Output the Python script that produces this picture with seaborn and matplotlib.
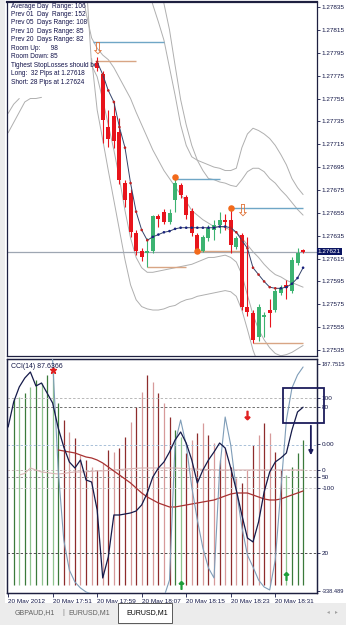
import numpy as np
import pandas as pd
import matplotlib
matplotlib.use("Agg")
import matplotlib.pyplot as plt
import matplotlib.transforms as mtrans
from matplotlib.patches import Rectangle
import seaborn as sns

sns.set_theme(style="white")
plt.rcParams['font.family'] = ['Liberation Sans', 'DejaVu Sans']

# ---------------- data ----------------
OPEN = [1.27786, 1.27776, 1.27730, 1.27740, 1.27726, 1.27681, 1.27672, 1.27637, 1.27622, 1.27620,
        1.27622, 1.27652, 1.27656, 1.27647, 1.27666, 1.27679, 1.27669, 1.27657, 1.27636, 1.27622,
        1.27633, 1.27640, 1.27644, 1.27649, 1.27649, 1.27625, 1.27636, 1.27573, 1.27567, 1.27546,
        1.27564, 1.27570, 1.27570, 1.27585, 1.27592, 1.27587, 1.27611, 1.27622]
HIGH = [1.27791, 1.27779, 1.27745, 1.27752, 1.27738, 1.27684, 1.27676, 1.27640, 1.27624, 1.27633,
        1.27653, 1.27654, 1.27658, 1.27658, 1.27685, 1.27681, 1.27671, 1.27659, 1.27637, 1.27636,
        1.27644, 1.27649, 1.27656, 1.27654, 1.27659, 1.27635, 1.27637, 1.27634, 1.27570, 1.27575,
        1.27568, 1.27580, 1.27589, 1.27592, 1.27596, 1.27616, 1.27624, 1.27623]
LOW = [1.27779, 1.27716, 1.27713, 1.27712, 1.27680, 1.27660, 1.27634, 1.27618, 1.27613, 1.27608,
       1.27620, 1.27643, 1.27645, 1.27645, 1.27656, 1.27668, 1.27650, 1.27635, 1.27621, 1.27621,
       1.27630, 1.27631, 1.27637, 1.27640, 1.27620, 1.27623, 1.27570, 1.27565, 1.27541, 1.27543,
       1.27546, 1.27555, 1.27568, 1.27583, 1.27580, 1.27585, 1.27609, 1.27620]
CLOSE = [1.27782, 1.27736, 1.27720, 1.27718, 1.27684, 1.27666, 1.27638, 1.27622, 1.27616, 1.27622,
         1.27652, 1.27650, 1.27647, 1.27655, 1.27681, 1.27671, 1.27653, 1.27637, 1.27622, 1.27634,
         1.27642, 1.27644, 1.27649, 1.27647, 1.27627, 1.27633, 1.27573, 1.27568, 1.27544, 1.27573,
         1.27566, 1.27567, 1.27587, 1.27589, 1.27589, 1.27614, 1.27620, 1.27621]
MA = [1.27787, 1.27776, 1.27762, 1.27752, 1.27730, 1.27712, 1.27681, 1.27656, 1.27640, 1.27631,
      1.27634, 1.27636, 1.27638, 1.27639, 1.27641, 1.27642, 1.27642, 1.27642, 1.27642, 1.27642,
      1.27642, 1.27642, 1.27643, 1.27643, 1.27642, 1.27638, 1.27631, 1.27624, 1.27607, 1.27601,
      1.27595, 1.27590, 1.27589, 1.27589, 1.27590, 1.27593, 1.27598, 1.27607]

# envelope / band lines: (first bar index, values)
BAND_U1 = (9, [1.27855, 1.27837, 1.27822, 1.27806, 1.27782, 1.27758, 1.27732, 1.27714, 1.27704, 1.27701,
               1.27699, 1.27697, 1.27695, 1.27694, 1.27692, 1.27692, 1.27694, 1.27712, 1.27724, 1.27729,
               1.27727, 1.27724, 1.27720, 1.27714, 1.27706, 1.27697, 1.27685, 1.27677, 1.27671])
BAND_U2 = (11, [1.27860, 1.27838, 1.27815, 1.27784, 1.27754, 1.27732, 1.27714, 1.27701, 1.27692, 1.27685,
                1.27684, 1.27682, 1.27681, 1.27679, 1.27678, 1.27684, 1.27691, 1.27694, 1.27694, 1.27691,
                1.27685, 1.27681, 1.27675, 1.27670, 1.27664, 1.27658, 1.27653])
BAND_M = (-3, [1.27860, 1.27830, 1.27808, 1.27799, 1.27793, 1.27789, 1.27782, 1.27773, 1.27764, 1.27755,
               1.27743, 1.27732, 1.27721, 1.27710, 1.27701, 1.27692, 1.27685, 1.27678, 1.27671, 1.27665,
               1.27657, 1.27653, 1.27649, 1.27646, 1.27643, 1.27643, 1.27642, 1.27640, 1.27638, 1.27633,
               1.27627, 1.27621, 1.27616, 1.27610, 1.27605, 1.27601, 1.27599, 1.27596, 1.27594, 1.27592,
               1.27590])
BAND_L1_OLD = (-16, [1.27742, 1.27750, 1.27755])
BAND_L1 = (-2, [1.27860, 1.27784, 1.27774, 1.27754, 1.27732, 1.27710, 1.27685, 1.27657, 1.27633, 1.27616,
                1.27607, 1.27603, 1.27603, 1.27604, 1.27605, 1.27606, 1.27607, 1.27608, 1.27609, 1.27610,
                1.27612, 1.27614, 1.27616, 1.27616, 1.27617, 1.27618, 1.27616, 1.27612, 1.27601, 1.27583,
                1.27566, 1.27553, 1.27544, 1.27537, 1.27532, 1.27530, 1.27531, 1.27533, 1.27536, 1.27539])
BAND_L2_OLD = (-16, [1.27725, 1.27734, 1.27743, 1.27752, 1.27755, 1.27755, 1.27756])
BAND_L2 = (-1, [1.27790, 1.27745, 1.27719, 1.27692, 1.27666, 1.27640, 1.27614, 1.27592, 1.27579, 1.27573,
                1.27571, 1.27570, 1.27570, 1.27571, 1.27573, 1.27574, 1.27577, 1.27579, 1.27580, 1.27582,
                1.27583, 1.27584, 1.27585, 1.27586, 1.27587, 1.27586, 1.27582, 1.27570, 1.27553, 1.27535,
                1.27522, 1.27513, 1.27509])

# support / resistance segments
LEVEL_PRICE = [1.27804, 1.27788, 1.27685, 1.27608, 1.27622, 1.27659, 1.27541]
LEVEL_FROM = [-0.7, -0.4, 14, 9, 18, 24, 28]
LEVEL_TO = [12, 7, 22, 16, 26, 37, 37]
LEVEL_KIND = ["res", "sup", "res", "sup", "sup", "res", "sup"]

DOT_IDX = [14, 18, 24]
DOT_PRICE = [1.27686, 1.27622, 1.27659]
SELL_IDX = [0, 26]
SELL_PRICE = [1.27799, 1.27657]

CURRENT_PRICE = 1.27621
PRICE_TICKS = [1.27535, 1.27555, 1.27575, 1.27595, 1.27615, 1.27635, 1.27655, 1.27675,
               1.27695, 1.27715, 1.27735, 1.27755, 1.27775, 1.27795, 1.27815, 1.27835]

INFO_LINES = ["Average Day  Range: 106", "Prev 01  Day  Range: 152", "Prev 05  Days Range: 108",
              "Prev 10  Days Range: 85", "Prev 20  Days Range: 82", "Room Up:      98",
              "Room Down: 85", "Tighest StopLosses should be:", "Long:  32 Pips at 1.27618",
              "Short: 28 Pips at 1.27624"]

# CCI panel
CCI = (-16, [41.7, 99.7, 134.4, 155.3, 169.2, 136.8, 143.7, 120.5, 97.3, 39.4,
             -4.6, -39.4, -53.3, -34.8, -81.1, -85.8, -150.7, -308.3, -259.6, -162.3,
             -162.3, -160.0, -157.6, -153.0, -139.0, -111.3, -74.2, -53.3, -39.4, -16.2,
             11.6, 30.1, 4.6, -34.8, -88.1, -58.0, -34.8, -16.2, 4.6, -7.0,
             -53.3, -104.3, -162.3, -215.6, -224.8, -178.5, -108.9, -62.6, -39.4, -30.1,
             -18.5, 34.7, 76.5, 87.6366])
CCI_FAST = (-9, [266.6, 197.0, -57.9, -220.2, -289.8, -317.6, -331.5, -340.8, -345.4, -352.4,
                 -352.4, -352.4, -352.4, -352.4, -352.4, -352.4, -352.4, -352.4, -352.4, -352.4,
                 -352.4, -352.4, -313.0, 4.6, 57.9, 0.0, -97.4, -173.9, -238.8, -285.1,
                 -308.3, -57.9, 64.9, 0.0, -104.3, -190.1, -255.0, -282.8, -313.0, -329.2,
                 -336.1, -266.6, -104.3, 57.9, 132.1, 162.3, 180.8])
CCI_SLOW = (-7, [-11.6, -13.9, -16.2, -18.5, -23.2, -27.8, -30.1, -34.8, -41.7, -51.0,
                 -60.3, -69.5, -78.8, -88.1, -99.7, -111.3, -120.5, -127.5, -134.5, -139.1,
                 -143.7, -143.7, -141.4, -139.1, -136.8, -134.5, -132.1, -129.8, -127.5, -122.9,
                 -118.2, -113.6, -111.3, -111.3, -111.3, -115.9, -120.5, -125.2, -127.5, -127.5,
                 -125.2, -120.5, -115.9, -111.3, -106.6])
CCI_SIGNAL = (-14, [-69.5, -66.0, -53.3, -58.0, -62.6, -64.0, -66.0, -67.2, -66.0, -64.0,
                    -62.6, -62.6, -62.0, -61.0, -60.0, -60.0, -59.0, -58.0, -57.0, -56.0,
                    -55.0, -54.0, -53.3, -53.3, -53.3, -53.3, -53.3, -53.3, -53.3, -54.0,
                    -55.0, -55.6, -56.0, -56.5, -57.0, -57.5, -57.9, -57.9, -57.9, -57.9,
                    -57.9, -57.9, -57.9, -57.9, -57.9, -57.9, -57.9, -57.9, -57.9, -57.9,
                    -57.9, -57.9])
HIST = (-15, [187, 188, 192, 198, 205, 202, 210, 213, 182,
              165, 153, 147, 130, 125, 118, 115, 122, 135, 133, 137,
              148, 163, 178, 193, 210, 203, 192, 182, 168,
              155, 148,
              132, 145, 152, 162, 150, 142, 125, 137, 118, 107, 102, 115, 140, 150, 162, 152, 133, 115,
              110, 118, 132, 145])
HIST_KIND = "GgGgGgGgG" + "RrRrRrRrRrR" + "RrRrRrRrR" + "Gg" + "RrRrRrRrRrRrRrRrRR" + "gGGG"

CCI_LEVEL_VALUE = [108.9, 88.1, 0.0, -57.9, -74.2, -99.7, -250.0]
CCI_LEVEL_COLOR = ['#B8B8B8', '#707070', '#A8C0D8', '#C8B8B8', '#909090', '#C8C8C8', '#505050']
CCI_TICK_VALUE = [187.7515, 108.9, 88.1, 2.0, -57.9, -74.2, -99.7, -250.0, -338.489]
CCI_TICK_LABEL = ["187.7515", "100", "80", "0.00", "0", "50", "-100", "20", "-338.489"]
CCI_STAR = (-8, 173.8)
CCI_SELL = (27, 69.5)
CCI_BUY_IDX = [15, 34]
CCI_BUY_VAL = [-324.5, -303.7]

TIME_TICK_IDX = [-16, -8, 0, 8, 16, 24, 32]
TIME_LABELS = ["20 May 2012", "20 May 17:51", "20 May 17:59", "20 May 18:07",
               "20 May 18:15", "20 May 18:23", "20 May 18:31"]
TABS = ["GBPAUD,H1", "EURUSD,M1", "EURUSD,M1"]

# ---------------- figure ----------------
W, H = 346, 625
fig = plt.figure(figsize=(W / 100, H / 100), dpi=100)
fig.patch.set_facecolor('white')

def fx(p):
    return p / W

def fy(p):
    return 1 - p / H

ax = fig.add_axes([fx(7), fy(356), fx(317) - fx(7), fy(2) - fy(356)])
axc = fig.add_axes([fx(7), fy(593), fx(317) - fx(7), fy(359) - fy(593)])
axl = axc.twinx()

XLIM = (-16.2, 39.5)
NAVY = '#141848'
BULL, BEAR = '#3CB371', '#E8141C'
TICK_FS = 4.6

def series_x(s):
    return np.arange(s[0], s[0] + len(s[1]))

# --- bands
for band in [BAND_U1, BAND_U2, BAND_M, BAND_L1_OLD, BAND_L1, BAND_L2_OLD, BAND_L2]:
    df = pd.DataFrame({"i": series_x(band), "p": band[1]})
    sns.lineplot(data=df, x="i", y="p", ax=ax, color='#AFAFAF', lw=0.7,
                 estimator=None, sort=False, zorder=2)

# --- current price line
ax.axhline(CURRENT_PRICE, color='#9EA6B2', lw=0.9, zorder=2.5)

# --- level segments
lvl_col = {"res": '#6FA6C6', "sup": '#D8A584'}
for p, a, b, k in zip(LEVEL_PRICE, LEVEL_FROM, LEVEL_TO, LEVEL_KIND):
    ax.hlines(p, a, b, colors=lvl_col[k], lw=1.0, zorder=3)

# --- candles
bars = np.arange(len(OPEN))
o, h, l, c = map(np.array, (OPEN, HIGH, LOW, CLOSE))
cols = np.where(c >= o, BULL, BEAR)
ax.vlines(bars, l, h, colors=cols, lw=0.8, zorder=4)
body = np.maximum(np.abs(c - o), 0.000012)
ax.bar(bars, body, bottom=np.minimum(o, c), width=0.72, color=cols, lw=0, zorder=5)

# --- moving average with coloured dots
ma_df = pd.DataFrame({"i": bars, "ma": MA})
sns.lineplot(data=ma_df, x="i", y="ma", ax=ax, color='#34436A', lw=0.7, zorder=6)
ma = np.array(MA)
dcol = ['#1A237E' if k > 0 and ma[k] >= ma[k - 1] else '#C02020' for k in range(len(ma))]
ax.scatter(bars, ma, s=3.5, c=dcol, linewidths=0, zorder=7)

# --- signals
ax.scatter(DOT_IDX, DOT_PRICE, s=22, color='#F26A1B', linewidths=0, zorder=8)
for i, p in zip(SELL_IDX, SELL_PRICE):
    ax.text(i, p, "\u21e9", color='#E07034', fontsize=12, ha='center', va='center',
            family=['DejaVu Sans'], zorder=9)

# --- info text
for k, line in enumerate(INFO_LINES):
    ypx = 6 + 8.45 * k
    ax.text(4 / 310, 1 - (ypx - 2) / 354, line, transform=ax.transAxes,
            fontsize=4.7, color='#12124A', va='center', ha='left', zorder=3.5)

ax.set_xlim(*XLIM)
ax.set_ylim(1.275298, 1.278394)
ax.set_xticks([])
ax.set_xlabel("")
ax.set_ylabel("")
ax.yaxis.tick_right()
ax.set_yticks(PRICE_TICKS)
ax.set_yticklabels([f"{v:.5f}" for v in PRICE_TICKS])
ax.tick_params(axis='y', direction='out', length=2.2, width=0.6, pad=1.0,
               labelsize=TICK_FS, colors=NAVY, right=True, left=False)
ax.text(1.003, CURRENT_PRICE, f"{CURRENT_PRICE:.5f}",
        transform=mtrans.blended_transform_factory(ax.transAxes, ax.transData),
        fontsize=TICK_FS, color='white', va='center', ha='left', clip_on=False, zorder=20,
        bbox=dict(boxstyle='square,pad=0.2', fc='#0B1562', ec='none'))

# ---------------- CCI panel ----------------
hx = series_x(HIST)
hcol = {'G': '#3B7A3B', 'g': '#8FC48F', 'R': '#8E2C2C', 'r': '#D79A9A'}
axc.vlines(hx, 0, HIST[1], colors=[hcol[k] for k in HIST_KIND], lw=0.9, zorder=2)
axc.set_ylim(-8, 226)
axc.set_xlim(*XLIM)
axc.set_yticks([])
axc.set_ylabel("")

for v, col in zip(CCI_LEVEL_VALUE, CCI_LEVEL_COLOR):
    axl.axhline(v, color=col, lw=0.7, ls=(0, (2.5, 2)), zorder=1)

for s, col, lw in [(CCI_SIGNAL, '#D8B4B4', 0.8), (CCI_SLOW, '#A83232', 0.9),
                   (CCI_FAST, '#7F9DB8', 0.8), (CCI, '#151A4A', 0.9)]:
    df = pd.DataFrame({"i": series_x(s), "v": s[1]})
    sns.lineplot(data=df, x="i", y="v", ax=axl, color=col, lw=lw, estimator=None,
                 sort=False, zorder=3)

axl.plot([CCI_STAR[0]], [CCI_STAR[1]], marker='*', color='#E02020', ms=5, zorder=6)
axl.plot([CCI_SELL[0]], [CCI_SELL[1]], marker=r'$\downarrow$', color='#E02020', ms=6, zorder=6)
axl.scatter(CCI_BUY_IDX, CCI_BUY_VAL, marker=r'$\uparrow$', color='#1E9E3A', s=30, zorder=6)

# user box and arrow
axl.add_patch(Rectangle((33.4, 51.0), 7.35, 81.1, fill=False, ec='#1C1C5C', lw=1.3,
                        clip_on=False, zorder=10))
axl.annotate("", xy=(38.4, -30.1), xytext=(38.4, 51.0),
             arrowprops=dict(arrowstyle='-|>', color='#1C1C5C', lw=1.3, mutation_scale=6),
             annotation_clip=False, zorder=10)

axl.text(0.013, 0.966, f"CCI(14) {CCI[1][-1]:.4f}", transform=axl.transAxes,
         fontsize=5.0, color=NAVY, va='center', ha='left', zorder=8)

axl.set_ylim(-343.13, 199.34)
axl.set_ylabel("")
axl.set_xlabel("")
axl.set_yticks(CCI_TICK_VALUE)
axl.set_yticklabels(CCI_TICK_LABEL)
axl.tick_params(axis='y', direction='out', length=2.2, width=0.6, pad=1.0,
                labelsize=TICK_FS, colors=NAVY)
for lbl in axl.get_yticklabels():
    if len(lbl.get_text()) > 6:
        lbl.set_fontsize(4.1)

axc.set_xticks(TIME_TICK_IDX)
axc.set_xticklabels(TIME_LABELS)
axc.set_xlabel("")
axc.tick_params(axis='x', direction='out', length=3, width=0.6, pad=1.5,
                labelsize=TICK_FS, colors=NAVY, bottom=True)
for lbl in axc.get_xticklabels():
    lbl.set_ha('left')

for a in (ax, axc, axl):
    for sp in a.spines.values():
        sp.set_color('#1E2040')
        sp.set_linewidth(0.9)
ax.spines['top'].set_linewidth(1.6)

# ---------------- window chrome ----------------
fig.patches.append(Rectangle((0, 0), 1, fy(603), transform=fig.transFigure,
                             fc='#ECECEC', ec='none', zorder=0))
fig.patches.append(Rectangle((0, fy(603)), fx(5), fy(0) - fy(603), transform=fig.transFigure,
                             fc='#ECECEC', ec='none', zorder=0))
fig.patches.append(Rectangle((fx(118), fy(623)), fx(54), fy(603) - fy(623),
                             transform=fig.transFigure, fc='white', ec='#404040', lw=0.6, zorder=1))
ty = fy(613)
fig.text(fx(15), ty, TABS[0], fontsize=5, color='#606060', va='center')
fig.text(fx(62), ty, "|", fontsize=5, color='#808080', va='center')
fig.text(fx(68), ty, TABS[1], fontsize=5, color='#606060', va='center')
fig.text(fx(126), ty, TABS[2], fontsize=5, color='#000000', va='center')
fig.text(fx(327), ty, "\u25c2   \u25b8", fontsize=4, color='#A0A0A0', va='center',
         family=['DejaVu Sans'])

fig.savefig("out.png", dpi=100, facecolor=fig.get_facecolor())
